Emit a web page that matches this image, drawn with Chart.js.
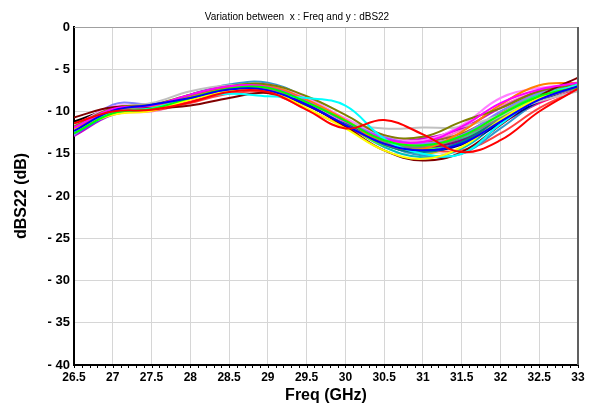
<!DOCTYPE html>
<html>
<head>
<meta charset="utf-8">
<script src="https://cdn.jsdelivr.net/npm/chart.js@4"></script>
<style>
  html, body { margin: 0; padding: 0; background: #fff; }
</style>
</head>
<body>
<canvas id="s22Chart" width="590" height="410"></canvas>
<script>
// frequency sweep points (GHz)
const freq = [26.5, 27, 27.5, 28, 28.5, 29, 29.5, 30, 30.5, 31, 31.5, 32, 32.5, 33];

// axis ticks
const xTicks = [26.5, 27, 27.5, 28, 28.5, 29, 29.5, 30, 30.5, 31, 31.5, 32, 32.5, 33];
const yTicks = [0, -5, -10, -15, -20, -25, -30, -35, -40];

// dBS22 for each sample
const s01 = [-11.4, -10.0, -9.8, -8.9, -7.7, -7.7, -9.8, -12.0, -11.0, -12.7, -14.8, -13.4, -10.0, -7.3];
const s02 = [-12.3, -9.9, -9.2, -8.4, -7.4, -7.5, -9.2, -11.6, -13.8, -14.6, -13.8, -11.2, -8.6, -7.0];
const s03 = [-12.6, -10.2, -9.7, -8.4, -7.3, -7.2, -8.9, -11.1, -13.4, -14.0, -12.9, -10.4, -8.2, -7.1];
const s04 = [-12.2, -10.4, -9.9, -8.6, -7.6, -7.6, -9.6, -12.0, -14.6, -15.6, -14.2, -11.0, -8.4, -7.0];
const s05 = [-12.4, -10.1, -9.6, -8.5, -7.9, -8.2, -8.4, -9.3, -13.2, -15.0, -15.0, -11.5, -8.4, -6.8];
const s06 = [-11.9, -9.7, -9.3, -8.0, -7.0, -7.1, -8.8, -11.2, -13.2, -13.6, -11.8, -9.0, -7.4, -6.6];
const s07 = [-10.7, -9.5, -9.6, -9.3, -8.4, -7.8, -9.2, -11.8, -14.6, -15.8, -14.8, -11.6, -8.2, -6.0];
const s08 = [-11.8, -9.6, -9.2, -8.0, -7.0, -6.8, -8.2, -10.4, -12.8, -13.0, -11.2, -9.6, -7.6, -6.8];
const s09 = [-12.1, -10.0, -9.4, -8.3, -7.2, -7.0, -8.6, -11.0, -13.8, -14.4, -12.4, -9.2, -6.9, -6.6];
const s10 = [-12.0, -9.9, -9.5, -8.2, -7.2, -7.3, -9.1, -11.6, -13.6, -14.2, -13.0, -10.8, -8.6, -7.2];
const s11 = [-11.6, -9.6, -9.0, -7.6, -6.9, -7.1, -9.0, -11.2, -12.0, -11.9, -11.8, -10.4, -8.8, -7.6];
const s12 = [-11.8, -9.4, -9.4, -8.6, -7.3, -6.8, -8.4, -10.8, -12.8, -13.4, -11.6, -8.4, -7.2, -6.8];
const s13 = [-12.8, -9.2, -9.1, -8.2, -7.2, -7.0, -8.8, -11.0, -13.0, -13.8, -12.8, -10.0, -7.8, -6.7];
const s14 = [-12.4, -10.0, -9.4, -8.1, -7.0, -6.9, -8.7, -11.0, -13.5, -14.0, -13.0, -10.6, -8.2, -7.0];
const s15 = [-12.2, -9.9, -9.5, -8.3, -7.3, -7.2, -9.0, -11.4, -13.9, -14.8, -13.6, -10.9, -8.4, -6.9];
const s16 = [-11.9, -9.8, -9.6, -8.4, -7.4, -7.4, -9.2, -11.6, -13.6, -14.2, -13.4, -11.0, -8.6, -7.0];
const s17 = [-12.0, -9.8, -9.4, -8.2, -7.1, -7.1, -8.9, -11.3, -13.7, -14.6, -13.9, -11.4, -8.8, -7.0];
const s18 = [-12.5, -10.1, -9.5, -8.0, -6.8, -6.6, -8.4, -11.0, -13.8, -15.2, -15.0, -12.0, -8.8, -7.0];
const s19 = [-11.7, -9.7, -9.3, -8.3, -7.3, -7.4, -9.1, -11.4, -13.4, -13.8, -12.9, -10.6, -8.4, -7.1];
const s20 = [-12.3, -10.2, -9.8, -8.5, -7.4, -7.2, -8.8, -11.2, -13.5, -14.3, -13.3, -10.5, -8.0, -6.8];
const s21 = [-11.6, -9.6, -9.7, -8.7, -7.5, -7.3, -9.0, -11.7, -13.6, -13.9, -13.4, -11.4, -9.0, -7.4];
const s22 = [-12.1, -9.9, -9.3, -8.1, -7.0, -7.0, -8.8, -11.1, -13.3, -14.1, -13.1, -10.4, -8.1, -6.9];
const s23 = [-12.7, -10.3, -9.6, -8.3, -7.1, -6.9, -8.7, -11.3, -13.9, -14.8, -13.7, -10.8, -8.2, -6.8];
const s24 = [-12.2, -10.0, -9.6, -8.5, -7.5, -7.4, -9.2, -11.6, -14.0, -14.5, -13.2, -10.3, -7.9, -6.8];
const s25 = [-11.2, -9.7, -9.5, -8.4, -7.3, -7.2, -8.9, -11.2, -13.5, -14.0, -13.0, -10.6, -8.3, -6.9];
const s26 = [-12.0, -10.1, -9.7, -8.6, -7.6, -7.6, -9.3, -11.5, -13.4, -13.6, -12.6, -10.2, -8.0, -6.9];
const s27 = [-12.9, -10.4, -9.8, -8.4, -7.2, -7.1, -8.9, -11.2, -13.2, -13.2, -12.0, -9.6, -7.6, -6.7];
const s28 = [-12.4, -10.0, -9.5, -8.2, -7.1, -7.2, -9.0, -11.5, -14.2, -15.4, -14.4, -11.2, -8.5, -7.0];
const s29 = [-11.8, -10.0, -9.9, -9.0, -7.9, -7.8, -9.7, -11.8, -13.4, -14.4, -14.6, -12.6, -9.6, -7.4];
const s30 = [-12.3, -9.9, -9.3, -8.1, -7.0, -7.0, -8.7, -11.0, -13.5, -14.4, -13.5, -10.8, -8.3, -6.9];
const s31 = [-12.0, -9.8, -9.5, -8.3, -7.3, -7.2, -8.9, -11.3, -13.8, -15.0, -13.6, -10.6, -8.0, -6.8];
const s32 = [-12.6, -10.3, -10.0, -8.8, -7.6, -7.3, -8.9, -11.0, -13.0, -13.5, -12.2, -9.4, -7.6, -6.8];

const series = [s01, s02, s03, s04, s05, s06, s07, s08, s09, s10, s11, s12, s13, s14, s15, s16,
                s17, s18, s19, s20, s21, s22, s23, s24, s25, s26, s27, s28, s29, s30, s31, s32];

const traceColors = [
    '#ff0000', '#0000ff', '#00ff00', '#ffff00', '#00ffff', '#ff00ff', '#800000', '#808000',
    '#ff8000', '#808080', '#c0c0c0', '#ff80ff', '#8080ff', '#80ff80', '#008080', '#800080',
    '#000080', '#3399cc', '#ff8080', '#00ff80', '#ff0080', '#8000ff', '#0080ff', '#80ff00',
    '#000000', '#996633', '#cc00cc', '#00c0c0', '#ff4040', '#4040ff', '#c0c000', '#ff80c0'
];

// title, plot frame and minor ticks on the frequency axis
const framePlugin = {
    id: 'frame',
    afterDraw(chart) {
        const { ctx, chartArea: a, scales: { x } } = chart;
        ctx.save();
        ctx.strokeStyle = '#a0a0a0';
        ctx.lineWidth = 1;
        ctx.beginPath();
        ctx.moveTo(a.left, a.top + 0.5);
        ctx.lineTo(a.right, a.top + 0.5);
        ctx.stroke();
        ctx.strokeStyle = '#606060';
        ctx.lineWidth = 2;
        ctx.beginPath();
        ctx.moveTo(a.right, a.top);
        ctx.lineTo(a.right, a.bottom);
        ctx.stroke();

        ctx.strokeStyle = '#000';
        ctx.lineWidth = 1;
        ctx.beginPath();
        for (let i = 0; i <= 65; i++) {
            const px = Math.round(x.getPixelForValue(26.5 + i / 10)) + 0.5;
            ctx.moveTo(px, a.bottom);
            ctx.lineTo(px, a.bottom + 3);
        }
        ctx.stroke();

        ctx.fillStyle = '#000';
        ctx.font = '10px Arial';
        ctx.textAlign = 'center';
        ctx.textBaseline = 'middle';
        ctx.fillText('Variation between  x : Freq and y : dBS22', 297, 17);
        ctx.restore();
    }
};

const ctx = document.getElementById('s22Chart').getContext('2d');

new Chart(ctx, {
    type: 'line',
    data: {
        datasets: series.map((vals, i) => ({
            label: 'S22 #' + (i + 1),
            data: vals.map((v, k) => ({ x: freq[k], y: v })),
            borderColor: traceColors[i],
            backgroundColor: traceColors[i],
            borderWidth: 2,
            pointRadius: 0,
            tension: 0.4,
            fill: false
        }))
    },
    options: {
        responsive: false,
        animation: false,
        devicePixelRatio: 1,
        layout: { padding: { top: 27, right: 12, left: 0, bottom: 0 } },
        plugins: {
            legend: { display: false },
            tooltip: { enabled: false }
        },
        scales: {
            x: {
                type: 'linear',
                min: 26.5,
                max: 33,
                afterBuildTicks: s => { s.ticks = xTicks.map(v => ({ value: v })); },
                afterFit: s => { s.height = 45; },
                grid: { color: '#d6d6d6', drawTicks: false },
                border: { color: '#000', width: 2 },
                ticks: {
                    color: '#000',
                    autoSkip: false,
                    maxRotation: 0,
                    padding: 5,
                    font: { family: 'Arial', size: 12, weight: 'bold' },
                    callback: v => String(v)
                },
                title: {
                    display: true,
                    text: 'Freq (GHz)',
                    color: '#000',
                    font: { family: 'Arial', size: 16, weight: 'bold' },
                    padding: { top: 0, bottom: 5 }
                }
            },
            y: {
                min: -40,
                max: 0,
                afterBuildTicks: s => { s.ticks = yTicks.map(v => ({ value: v })); },
                afterFit: s => { s.width = 74; },
                grid: { color: '#d6d6d6', drawTicks: false },
                border: { color: '#000', width: 2 },
                ticks: {
                    color: '#000',
                    padding: 4,
                    font: { family: 'Arial', size: 13, weight: 'bold' },
                    callback: v => v < 0 ? '- ' + Math.abs(v) : String(v)
                },
                title: {
                    display: true,
                    text: 'dBS22 (dB)',
                    color: '#000',
                    font: { family: 'Arial', size: 16, weight: 'bold' },
                    padding: { top: 12, bottom: 0 }
                }
            }
        }
    },
    plugins: [framePlugin]
});
</script>
</body>
</html>
